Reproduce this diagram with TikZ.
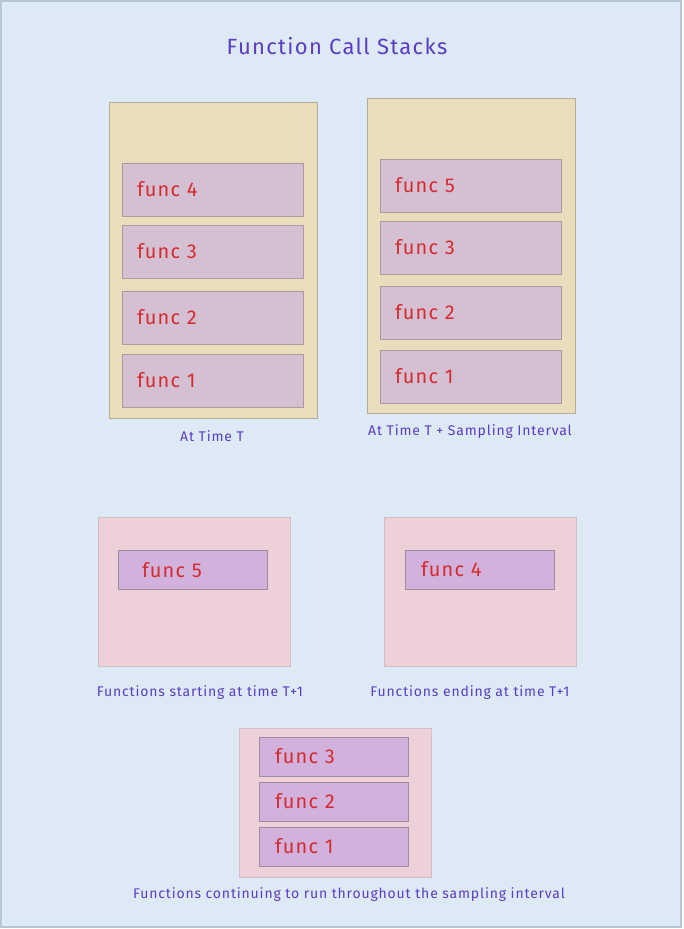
\documentclass[tikz,border=0pt]{standalone}
\usepackage{fontspec}
\setmainfont{Fira Sans}[LetterSpace=6]
\usepackage{xcolor}
\usetikzlibrary{positioning,calc}
\definecolor{bgblue}{HTML}{DDEAF5}
\definecolor{bgedge}{HTML}{B6C6D6}
\definecolor{tan}{HTML}{E9DEBB}
\definecolor{tanedge}{HTML}{B4AC94}
\definecolor{mauve}{HTML}{D5C0D3}
\definecolor{mauveedge}{HTML}{A89C9E}
\definecolor{rose}{HTML}{EDD0D8}
\definecolor{roseedge}{HTML}{D6BCCB}
\definecolor{lilac}{HTML}{D2B1DC}
\definecolor{lilacedge}{HTML}{9C8CA0}
\definecolor{funcred}{HTML}{D42B2E}
\definecolor{ink}{HTML}{5A3DC2}

\begin{document}
\begin{tikzpicture}[x=1pt,y=-1pt,
    stackbox/.style={draw=tanedge, fill=tan, line width=0.8pt, inner sep=0pt, outer sep=0pt},
    setbox/.style={draw=roseedge, fill=rose, line width=0.8pt, inner sep=0pt, outer sep=0pt},
    funcbox/.style={draw=mauveedge, fill=mauve, line width=0.8pt, outer sep=0pt,
        inner xsep=15pt, inner ysep=0pt, text width=151pt, align=left,
        minimum height=53pt, text=funcred, font=\fontsize{20}{22}\selectfont},
    funcsmall/.style={draw=lilacedge, fill=lilac, line width=0.8pt, outer sep=0pt,
        inner xsep=16pt, inner ysep=0pt, text width=117pt, align=left,
        minimum height=39pt, text=funcred, font=\fontsize{20}{22}\selectfont},
    caption/.style={text=ink, font=\fontsize{14}{16}\selectfont, inner sep=0pt}]

    % page
    \useasboundingbox (0,0) rectangle (683,929);
    \draw[bgedge, fill=bgblue, line width=1.2pt] (1,1) rectangle (681,927);

    % title
    \node[text=ink, font=\fontsize{22}{26}\selectfont] (title) at (337,46) {Function Call Stacks};

    % stack at time T
    \node[stackbox, minimum width=208pt, minimum height=316pt] (stackT) at (213,260) {};
    \foreach \y/\n in {189.5/4, 251.5/3, 317.5/2, 380.5/1} {
        \node[funcbox] (T\n) at (212.5,\y) {func \n};
    }
    \node[caption] (capT) at (212,436) {At Time T};

    % stack at time T + interval
    \node[stackbox, minimum width=208pt, minimum height=315pt] (stackS) at (471,255.5) {};
    \foreach \y/\n in {185.5/5, 247.5/3, 312.5/2, 376.5/1} {
        \node[funcbox] (S\n) at (470.5,\y) {func \n};
    }
    \node[caption] (capS) at (470,432) {At Time T + Sampling Interval};

    % started
    \node[setbox, minimum width=192pt, minimum height=149pt] (started) at (194,591.5) {};
    \node[funcsmall, inner xsep=24pt, text width=101pt] (new5) at (192.5,570) {func 5};
    \node[caption] (capStart) at (200,693) {Functions starting at time T+1};

    % ended
    \node[setbox, minimum width=192pt, minimum height=149pt] (ended) at (480,591.5) {};
    \node[funcsmall] (old4) at (479.5,569.5) {func 4};
    \node[caption] (capEnd) at (470,693) {Functions ending at time T+1};

    % continuing
    \node[setbox, minimum width=192pt, minimum height=149pt] (kept) at (335,802.5) {};
    \foreach \y/\n in {756.5/3, 801.5/2, 846.5/1} {
        \node[funcsmall] (K\n) at (333.5,\y) {func \n};
    }
    \node[caption] (capKept) at (349,895) {Functions continuing to run throughout the sampling interval};
\end{tikzpicture}
\end{document}
